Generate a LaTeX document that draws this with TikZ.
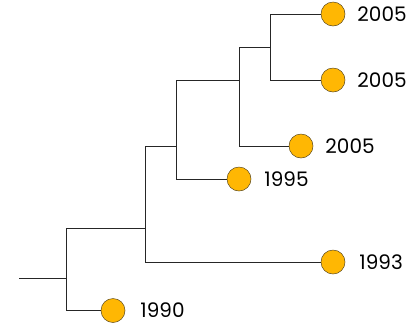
\documentclass[tikz,border=0pt]{standalone}
\usepackage{fontspec}
\setmainfont{Poppins}
\usepackage{tikz}
\usetikzlibrary{calc,positioning}

\definecolor{leafyellow}{HTML}{FFB703}
\definecolor{leafedge}{HTML}{5C4A1E}

\tikzset{
  leaf/.style={circle, draw=leafedge, line width=0.5pt, fill=leafyellow, minimum size=24pt, inner sep=0pt},
  year/.style={anchor=west, inner sep=0pt, font=\fontsize{20}{24}\selectfont},
  branch/.style={draw=black!85, line width=0.8pt}
}

\begin{document}
\begin{tikzpicture}[x=1pt, y=-1pt]
				 \useasboundingbox (0,0) rectangle (419,325);
				 %\draw[color=gray,step=10pt, help lines,opacity=0.3] (0,0) grid (419,325); %help grids
				 % inner points, where the edge from the parent comes in
				 \coordinate (root) at (19,278) ;
				 \coordinate (a) at (66,278) ;
				 \coordinate (b) at (145,228.5) ;
				 \coordinate (c) at (176,146) ;
				 \coordinate (d) at (239,80.5) ;
				 \coordinate (e) at (270.5,47.5) ;
				 % leaves
				 \node[leaf] (l1) at (333,14) {};
				 \node[leaf] (l2) at (333,80) {};
				 \node[leaf] (l3) at (301,146) {};
				 \node[leaf] (l4) at (239,179) {};
				 \node[leaf] (l5) at (333,262) {};
				 \node[leaf] (l6) at (113,310.5) {};
				 % elbows
				 \draw[branch] (root)--(a);
				 \draw[branch] (b) -| (a);
				 \draw[branch] (l6.west) -| (a);
				 \draw[branch] (c) -| (b);
				 \draw[branch] (l5.west) -| (b);
				 \draw[branch] (d) -| (c);
				 \draw[branch] (l4.west) -| (c);
				 \draw[branch] (e) -| (d);
				 \draw[branch] (l3.west) -| (d);
				 \draw[branch] (l1.west) -| (e);
				 \draw[branch] (l2.west) -| (e);
				 % years
				 \node[year] (y1) at ([xshift=12pt]l1.east) {2005};
				 \node[year] (y2) at ([xshift=12pt]l2.east) {2005};
				 \node[year] (y3) at ([xshift=12pt]l3.east) {2005};
				 \node[year] (y4) at ([xshift=13pt]l4.east) {1995};
				 \node[year] (y5) at ([xshift=14pt]l5.east) {1993};
				 \node[year] (y6) at ([xshift=15pt]l6.east) {1990};
				\end{tikzpicture}
\end{document}
